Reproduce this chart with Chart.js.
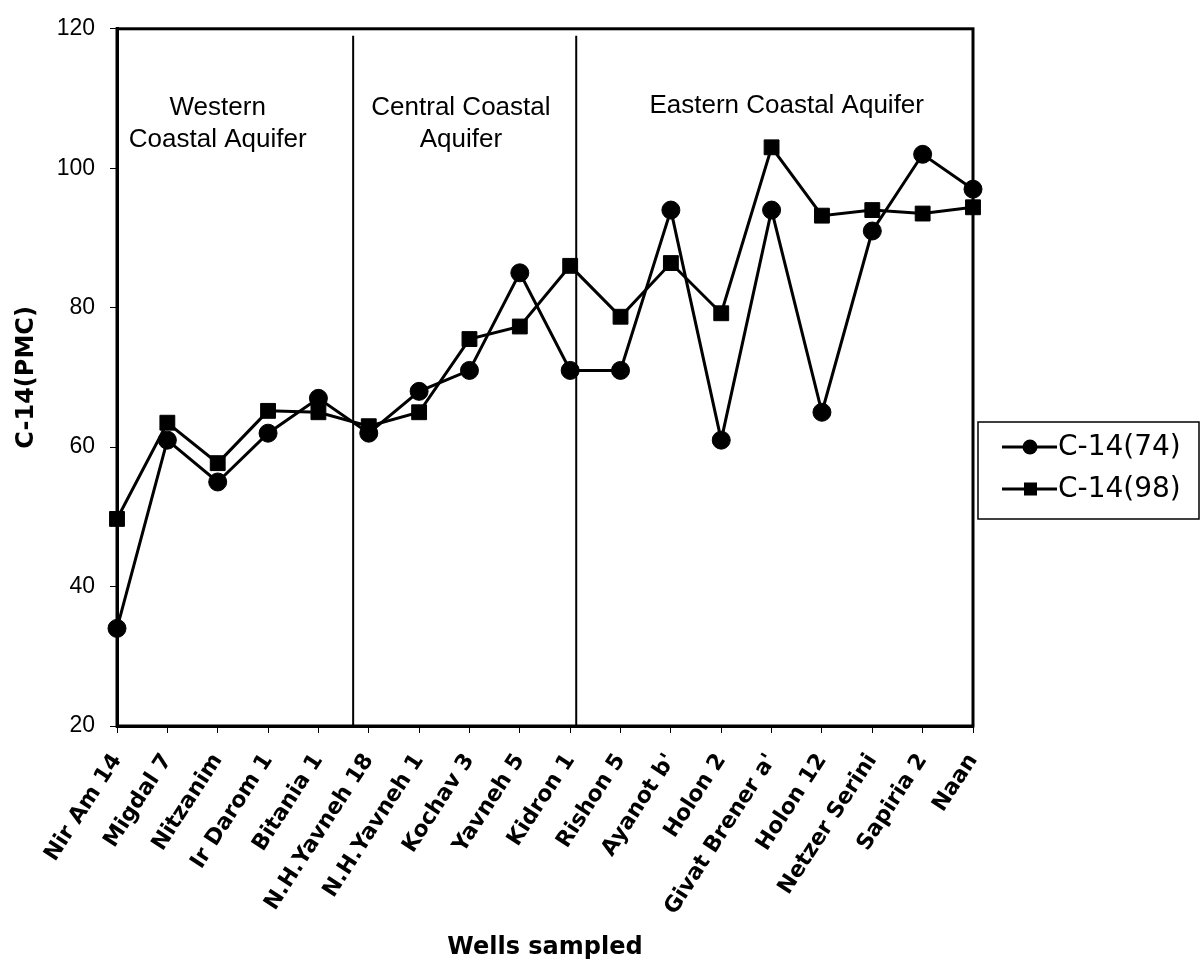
<!DOCTYPE html>
<html>
<head>
<meta charset="utf-8">
<script src="https://cdn.jsdelivr.net/npm/chart.js@4/dist/chart.umd.min.js"></script>
<style>
  html, body { margin: 0; padding: 0; background: #fff; }
</style>
</head>
<body>
<canvas id="chart" width="1201" height="974"></canvas>
<script>
const wells = [
  'Nir Am 14', 'Migdal 7', 'Nitzanim', 'Ir Darom 1', 'Bitania 1', 'N.H.Yavneh 18',
  'N.H.Yavneh 1', 'Kochav 3', 'Yavneh 5', 'Kidron 1', 'Rishon 5', "Ayanot b'",
  'Holon 2', "Givat Brener a'", 'Holon 12', 'Netzer Serini', 'Sapiria 2', 'Naan'
];
const c14_74 = [34, 61, 55, 62, 67, 62, 68, 71, 85, 71, 71, 94, 61, 94, 65, 91, 102, 97];
const c14_98 = [49.7, 63.5, 57.7, 65.2, 65, 63, 65, 75.5, 77.3, 86, 78.7, 86.4, 79.2, 103, 93.2, 94, 93.5, 94.4];
const regionNames = [
  ['Western', 'Coastal Aquifer'],
  ['Central Coastal', 'Aquifer'],
  ['Eastern Coastal Aquifer']
];

const boldFont = '"DejaVu Sans", sans-serif';
const plainFont = '"Liberation Sans", Arial, sans-serif';

// separators, region captions, plot frame and the boxed legend
const decorations = {
  id: 'decorations',
  beforeDatasetsDraw(chart, args, opts) {
    const { ctx, chartArea: a, scales: { x, y } } = chart;
    ctx.save();
    ctx.strokeStyle = '#000';
    ctx.lineWidth = 2;
    opts.breaks.forEach(b => {
      const px = x.getPixelForValue(b);
      ctx.beginPath();
      ctx.moveTo(px, y.getPixelForValue(119));
      ctx.lineTo(px, a.bottom);
      ctx.stroke();
    });
    ctx.fillStyle = '#000';
    ctx.font = '26px ' + plainFont;
    ctx.textAlign = 'center';
    ctx.textBaseline = 'middle';
    opts.captions.forEach((cap, i) => {
      regionNames[i].forEach((line, j) => {
        ctx.fillText(line, x.getPixelForValue(cap.at), y.getPixelForValue(cap.top) + j * 32);
      });
    });
    ctx.restore();
  },
  afterDraw(chart, args, opts) {
    const { ctx, chartArea: a } = chart;
    ctx.save();
    ctx.strokeStyle = '#000';
    ctx.lineWidth = 3;
    ctx.strokeRect(a.left, a.top, a.right - a.left, a.bottom - a.top);

    // legend box
    const bx = a.right + 5, by = 422, bw = 221, bh = 97;
    ctx.lineWidth = 1.5;
    ctx.strokeRect(bx, by, bw, bh);
    ctx.font = '28px "DejaVu Sans", sans-serif';
    ctx.textAlign = 'left';
    ctx.textBaseline = 'middle';
    chart.data.datasets.forEach((ds, i) => {
      const ry = by + 25 + i * 42;
      ctx.lineWidth = 3;
      ctx.beginPath();
      ctx.moveTo(bx + 24, ry);
      ctx.lineTo(bx + 79, ry);
      ctx.stroke();
      ctx.fillStyle = '#000';
      if (ds.pointStyle === 'circle') {
        ctx.beginPath();
        ctx.arc(bx + 52, ry, 7.5, 0, Math.PI * 2);
        ctx.fill();
      } else {
        ctx.fillRect(bx + 46, ry - 6.5, 13, 13);
      }
      ctx.fillText(ds.label, bx + 80, ry + 1);
    });
    ctx.restore();
  }
};

new Chart(document.getElementById('chart'), {
  type: 'line',
  data: {
    labels: wells,
    datasets: [
      {
        label: 'C-14(74)',
        data: c14_74,
        borderColor: '#000',
        backgroundColor: '#000',
        borderWidth: 3,
        pointStyle: 'circle',
        pointRadius: 9,
        pointBorderWidth: 1,
        tension: 0,
        clip: false
      },
      {
        label: 'C-14(98)',
        data: c14_98,
        borderColor: '#000',
        backgroundColor: '#000',
        borderWidth: 3,
        pointStyle: 'rect',
        pointRadius: 10.5,
        pointBorderWidth: 1,
        tension: 0,
        clip: false
      }
    ]
  },
  options: {
    responsive: false,
    animation: false,
    layout: { padding: { top: 25, right: 228, bottom: 0, left: 0 } },
    plugins: {
      legend: { display: false },
      tooltip: { enabled: false },
      decorations: {
        breaks: [4.69, 9.12],
        captions: [
          { at: 2.0, top: 108.6 },
          { at: 6.83, top: 108.6 },
          { at: 13.3, top: 108.9 }
        ]
      }
    },
    scales: {
      x: {
        offset: false,
        grid: { drawOnChartArea: false, drawTicks: true, tickLength: 7, color: '#000', lineWidth: 1 },
        border: { display: true, color: '#000', width: 3 },
        ticks: {
          autoSkip: false,
          maxRotation: 57,
          minRotation: 57,
          padding: 16,
          color: '#000',
          font: { family: boldFont, weight: 'bold', size: 22 }
        },
        title: {
          display: true,
          text: 'Wells sampled',
          color: '#000',
          font: { family: boldFont, weight: 'bold', size: 24 },
          padding: { top: 0, bottom: 12 }
        },
        afterFit(scale) { scale.height = 248; }
      },
      y: {
        min: 20,
        max: 120,
        grid: { drawOnChartArea: false, drawTicks: true, tickLength: 7, color: '#000', lineWidth: 1 },
        border: { display: true, color: '#000', width: 3 },
        ticks: {
          stepSize: 20,
          padding: 15,
          color: '#000',
          font: { family: plainFont, size: 23 }
        },
        title: {
          display: true,
          text: 'C-14(PMC)',
          color: '#000',
          font: { family: boldFont, weight: 'bold', size: 24 },
          padding: { top: 12, bottom: 0 }
        },
        afterFit(scale) { scale.width = 117; }
      }
    }
  },
  plugins: [decorations]
});
</script>
</body>
</html>
